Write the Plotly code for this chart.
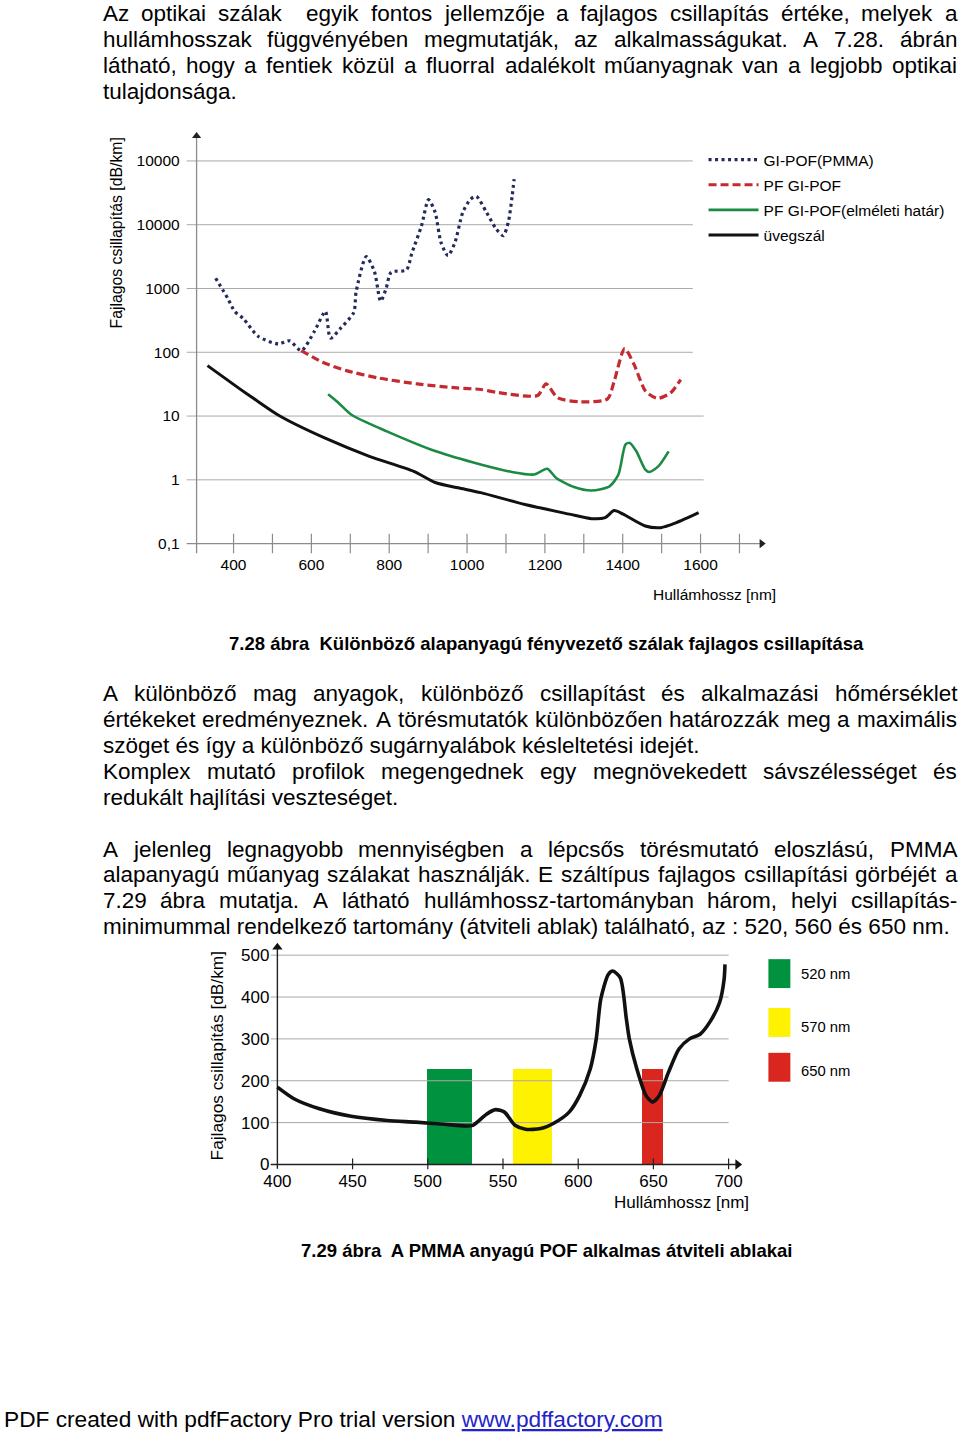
import plotly.graph_objects as go

# ---------------- page geometry helpers ----------------
W_PX, H_PX = 960, 1439
def PX(x):
    # small empirical correction so that the rendered page lines up with the scan
    return (x - 5.0 * (1 - x / W_PX)) / W_PX
def PY(y):
    return 1 - (y + 2.5) / H_PX

FONT = "Liberation Sans, Arial, Helvetica, sans-serif"

# ---------------- text content ----------------
para1 = ["Az optikai szálak  egyik fontos jellemzője a fajlagos csillapítás értéke, melyek a",
         "hullámhosszak függvényében megmutatják, az alkalmasságukat. A 7.28. ábrán",
         "látható, hogy a fentiek közül a fluorral adalékolt műanyagnak van a legjobb optikai",
         "tulajdonsága."]
para1_justify = [True, True, True, False]
para2 = ["A különböző mag anyagok, különböző csillapítást és alkalmazási hőmérséklet",
         "értékeket eredményeznek. A törésmutatók különbözően határozzák meg a maximális",
         "szöget és így a különböző sugárnyalábok késleltetési idejét.",
         "Komplex mutató profilok megengednek egy megnövekedett sávszélességet és",
         "redukált hajlítási veszteséget."]
para2_justify = [True, True, False, True, False]
para3 = ["A jelenleg legnagyobb mennyiségben a lépcsős törésmutató eloszlású, PMMA",
         "alapanyagú műanyag szálakat használják. E száltípus fajlagos csillapítási görbéjét a",
         "7.29 ábra mutatja. A látható hullámhossz-tartományban három, helyi csillapítás-",
         "minimummal rendelkező tartomány (átviteli ablak) található, az : 520, 560 és 650 nm."]
para3_justify = [True, True, True, False]
caption1 = "7.28 ábra  Különböző alapanyagú fényvezető szálak fajlagos csillapítása"
caption2 = "7.29 ábra  A PMMA anyagú POF alkalmas átviteli ablakai"
footer_plain = "PDF created with pdfFactory Pro trial version "
footer_link = "www.pdffactory.com"

# ---------------- chart 1 data (log scale) ----------------
c1_ytitle = "Fajlagos csillapítás [dB/km]"
c1_xtitle = "Hullámhossz [nm]"
c1_xtick_vals = [400, 500, 600, 700, 800, 900, 1000, 1100, 1200, 1300, 1400, 1500, 1600, 1700]
c1_xtick_text = ["400", "", "600", "", "800", "", "1000", "", "1200", "", "1400", "", "1600", ""]
c1_ytick_vals = [0.1, 1, 10, 100, 1000, 10000, 100000]
c1_ytick_text = ["0,1", "1", "10", "100", "1000", "10000", "10000"]

series_names = ["GI-POF(PMMA)", "PF GI-POF", "PF GI-POF(elméleti határ)", "üvegszál"]

gi_pmma_nm = [354, 386, 403, 426, 463, 515, 544, 574, 608, 636, 649, 677, 709, 715, 741,
              762, 778, 792, 805, 844, 858, 883, 901, 918, 933, 951, 969, 989, 1009,
              1024, 1050, 1075, 1093, 1106, 1116, 1121]
gi_pmma_db = [1449, 685, 437, 333, 178, 135, 151, 106, 214, 437, 167, 245, 422, 891, 3162,
              1845, 630, 1000, 1800, 1950, 3550, 9640, 24660, 15600, 5290, 3270, 5290,
              15600, 25200, 27800, 15600, 8550, 6730, 10900, 28440, 51900]

pf_gi_nm = [574, 629, 690, 771, 872, 974, 1036, 1075, 1181, 1203, 1233, 1292, 1361, 1378,
            1405, 1429, 1459, 1489, 1523, 1549]
pf_gi_db = [106, 69.7, 51.6, 39.6, 31.9, 27.6, 26.1, 23.6, 21, 32, 19.3, 16.7, 18.6, 35,
            114, 64.6, 24.5, 18.9, 23.1, 37.4]

pf_limit_nm = [643, 668, 703, 794, 920, 1035, 1115, 1172, 1206, 1229, 1275, 1320, 1366,
               1389, 1407, 1418, 1435, 1458, 1469, 1492, 1518]
pf_limit_db = [22, 16.5, 10.5, 5.76, 2.8, 1.74, 1.33, 1.21, 1.49, 1.07, 0.77, 0.68, 0.79,
               1.21, 3.56, 3.79, 2.8, 1.45, 1.33, 1.64, 2.8]

glass_nm = [333, 416, 451, 519, 634, 749, 863, 920, 977, 1035, 1149, 1263, 1320, 1355,
            1378, 1401, 1458, 1498, 1538, 1595]
glass_db = [61.8, 26.7, 19, 10, 4.53, 2.34, 1.36, 0.90, 0.75, 0.63, 0.41, 0.29, 0.246,
            0.255, 0.33, 0.29, 0.189, 0.178, 0.213, 0.305]

# ---------------- chart 2 data ----------------
c2_ytitle = "Fajlagos csillapítás [dB/km]"
c2_xtitle = "Hullámhossz [nm]"
c2_xtick_vals = [400, 450, 500, 550, 600, 650, 700]
c2_ytick_vals = [0, 100, 200, 300, 400, 500]

pmma_nm = [400, 411, 428, 449, 473, 492, 511, 525, 530, 539, 545, 551, 558, 565, 575, 584,
           594, 601, 608, 612, 615, 620, 623, 628, 632, 634, 639, 645, 649.5, 654, 660,
           667, 674, 681, 688, 694, 697, 697.6]
pmma_db = [184.6, 157, 133, 115, 105, 101, 96, 92, 93.5, 120, 131, 125, 93.5, 84, 85.6, 99,
           125, 165, 228, 300, 395, 454, 462, 446, 348, 300, 228, 165, 149, 165, 220,
           276, 300, 311, 343, 387, 442, 478]

window_labels = ["520 nm", "570 nm", "650 nm"]
window_left = [500, 557, 643]
window_right = [530, 583, 657]
window_height = [228, 228, 228]
window_colors = ["#00923f", "#fff200", "#d9261e"]

# ---------------- axis geometry (pixel placement) ----------------
X1_DOM_PX = (184, 770)
X1_RANGE = (276.9, 1779.5)
Y1_DOM_PX = (125, 553)
Y1_RANGE = (-1.156, 5.531)
X1_GRID_START = 279.5
Y1_GRID_END = [1608, 1608, 1580, 1580, 1580, 1580]   # for 1..100000
X1_AXIS_AT = 305            # x position of the vertical axis (nm)
X1_ARROW = 1757
Y1_ARROW = 10 ** 5.39
Y1_TICK_LO, Y1_TICK_HI = 10 ** -1.156, 10 ** -0.844

X2_DOM_PX = (269, 745)
X2_RANGE = (395.4, 711.2)
Y2_DOM_PX = (940, 1171)
Y2_RANGE = (-11.9, 538.1)
X2_AXIS_END = 706
Y2_AXIS_END = 519
X2_GRID_END = 700

fig = go.Figure()

# ---- chart 1 gridlines ----
gx, gy = [], []
for v, end in zip(c1_ytick_vals[1:], Y1_GRID_END):
    gx += [X1_GRID_START, end, None]
    gy += [v, v, None]
fig.add_trace(go.Scatter(x=gx, y=gy, mode="lines", line=dict(color="#a9a9a9", width=1),
                         hoverinfo="skip", showlegend=False, xaxis="x", yaxis="y"))
# axes
fig.add_trace(go.Scatter(x=[X1_GRID_START, X1_ARROW, None, X1_AXIS_AT, X1_AXIS_AT],
                         y=[0.1, 0.1, None, Y1_TICK_LO, Y1_ARROW],
                         mode="lines", line=dict(color="#8c8c8c", width=1.3),
                         hoverinfo="skip", showlegend=False, xaxis="x", yaxis="y"))
tx, ty = [], []
for t in c1_xtick_vals:
    tx += [t, t, None]
    ty += [Y1_TICK_LO, Y1_TICK_HI, None]
fig.add_trace(go.Scatter(x=tx, y=ty, mode="lines", line=dict(color="#8c8c8c", width=1.2),
                         hoverinfo="skip", showlegend=False, xaxis="x", yaxis="y"))
fig.add_trace(go.Scatter(x=[X1_AXIS_AT, X1_ARROW], y=[Y1_ARROW, 0.1], mode="markers",
                         marker=dict(symbol=["triangle-up", "triangle-right"], size=8,
                                     color="#222"),
                         cliponaxis=False, hoverinfo="skip", showlegend=False,
                         xaxis="x", yaxis="y"))

# ---- chart 1 curves ----
curves = [
    (gi_pmma_nm, gi_pmma_db, "#232a5c", "3px,3.5px", 3.2),
    (pf_gi_nm, pf_gi_db, "#c42a2f", "8px,4px", 3.2),
    (pf_limit_nm, pf_limit_db, "#1b8a42", "solid", 2.6),
    (glass_nm, glass_db, "#111111", "solid", 3.0),
]
for name, (xs, ys, col, dash, wd) in zip(series_names, curves):
    fig.add_trace(go.Scatter(x=xs, y=ys, mode="lines", name=name, legendgroup=name,
                             line=dict(color=col, dash=dash, width=wd, shape="spline",
                                       smoothing=0.7),
                             xaxis="x", yaxis="y"))

# ---- chart 2 gridlines ----
gx, gy = [], []
for v in c2_ytick_vals[1:]:
    gx += [X2_RANGE[0], X2_GRID_END, None]
    gy += [v, v, None]
fig.add_trace(go.Scatter(x=gx, y=gy, mode="lines", line=dict(color="#a9a9a9", width=1),
                         hoverinfo="skip", showlegend=False, xaxis="x2", yaxis="y2"))
# bars (transmission windows)
fig.add_trace(go.Bar(x=[(l + r) / 2 for l, r in zip(window_left, window_right)],
                     y=window_height,
                     width=[r - l for l, r in zip(window_left, window_right)],
                     marker=dict(color=window_colors, line=dict(width=0)),
                     showlegend=False, hoverinfo="skip", xaxis="x2", yaxis="y2"))
# axes
fig.add_trace(go.Scatter(x=[X2_RANGE[0], X2_AXIS_END, None, 400, 400],
                         y=[0, 0, None, -10, Y2_AXIS_END],
                         mode="lines", line=dict(color="#222", width=1.4),
                         hoverinfo="skip", showlegend=False, xaxis="x2", yaxis="y2"))
tx, ty = [], []
for t in c2_xtick_vals[1:]:
    tx += [t, t, None]
    ty += [-12, 14, None]
fig.add_trace(go.Scatter(x=tx, y=ty, mode="lines", line=dict(color="#222", width=1.2),
                         hoverinfo="skip", showlegend=False, xaxis="x2", yaxis="y2"))
fig.add_trace(go.Scatter(x=[400, X2_AXIS_END], y=[Y2_AXIS_END, 0], mode="markers",
                         marker=dict(symbol=["triangle-up", "triangle-right"], size=9,
                                     color="#111"),
                         cliponaxis=False, hoverinfo="skip", showlegend=False,
                         xaxis="x2", yaxis="y2"))
fig.add_trace(go.Scatter(x=pmma_nm, y=pmma_db, mode="lines",
                         line=dict(color="#111111", width=3.6, shape="spline", smoothing=0.7),
                         showlegend=False, hoverinfo="skip", xaxis="x2", yaxis="y2"))

# ---------------- text helpers ----------------
ARIAL = {' ': 278, '(': 333, ')': 333, ',': 278, '-': 333, '.': 278, '/': 278, ':': 278,
         '[': 278, ']': 278,
         'A': 667, 'B': 667, 'C': 722, 'D': 722, 'E': 667, 'F': 611, 'G': 778, 'H': 722,
         'I': 278, 'J': 500, 'K': 667, 'L': 556, 'M': 833, 'N': 722, 'O': 778, 'P': 667,
         'Q': 778, 'R': 722, 'S': 667, 'T': 611, 'U': 722, 'V': 667, 'W': 944, 'X': 667,
         'Y': 667, 'Z': 611,
         'a': 556, 'b': 556, 'c': 500, 'd': 556, 'e': 556, 'f': 278, 'g': 556, 'h': 556,
         'i': 222, 'j': 222, 'k': 500, 'l': 222, 'm': 833, 'n': 556, 'o': 556, 'p': 556,
         'q': 556, 'r': 333, 's': 500, 't': 278, 'u': 556, 'v': 500, 'w': 722, 'x': 500,
         'y': 500, 'z': 500, 'í': 278, 'É': 667}

def tw(s, size):
    return sum(ARIAL.get(c, 556) for c in s) * size / 1000.0

annotations = []
BODY = 22.5
LEFT, RIGHT = 101, 957

def body_ann(text, x, yc):
    annotations.append(dict(text=text, x=PX(x), y=yc, xref="paper", yref="paper",
                            xanchor="left", yanchor="middle", showarrow=False,
                            borderpad=0, borderwidth=0,
                            font=dict(family=FONT, size=BODY, color="#000")))

def body_line(line, baseline, justify):
    yc = PY(baseline - 7.8)
    if not justify:
        body_ann(line, LEFT, yc)
        return
    words = line.split(" ")
    widths = [tw(w, BODY) for w in words]
    gap = (RIGHT - LEFT - sum(widths)) / (len(words) - 1)
    x = LEFT
    for w, wd in zip(words, widths):
        if w:
            body_ann(w, x, yc)
        x += wd + gap

for i, (ln, j) in enumerate(zip(para1, para1_justify)):
    body_line(ln, 19.3 + 26 * i, j)
for i, (ln, j) in enumerate(zip(para2, para2_justify)):
    body_line(ln, 701.3 + 26 * i, j)
for i, (ln, j) in enumerate(zip(para3, para3_justify)):
    body_line(ln, 857.3 + 26 * i, j)

def ann(text, x, y, size, family=FONT, xanchor="center", angle=0, color="#000", weight=None):
    f = dict(family=family, size=size, color=color)
    if weight:
        f["weight"] = weight
    annotations.append(dict(text=text, x=PX(x), y=PY(y), xref="paper", yref="paper",
                            xanchor=xanchor, yanchor="middle", showarrow=False,
                            borderpad=0, borderwidth=0, textangle=angle, font=f))

ann(caption1, 545.5, 643, 18.5, weight="bold")
ann(caption2, 545.5, 1252, 18.5, weight="bold")
ann(footer_plain + "<span style='color:#2323c8'><u>" + footer_link + "</u></span>",
    2, 1421, 22.7, xanchor="left")

# chart titles
ann(c1_ytitle, 115, 231, 15.8, angle=-90)
ann(c1_xtitle, 776, 594, 15.5, xanchor="right")
ann(c2_ytitle, 215, 1057, 17.3, angle=-90)
ann(c2_xtitle, 749, 1204, 17, xanchor="right")

# chart 2 legend (colour swatches)
sw_top = [960, 1009, 1054]
sw_text_y = [975, 1028, 1072]
shapes = []
for lab, col, top, ty_ in zip(window_labels, window_colors, sw_top, sw_text_y):
    shapes.append(dict(type="rect", xref="paper", yref="paper", x0=PX(768), x1=PX(790),
                       y0=PY(top), y1=PY(top + 29), fillcolor=col, line=dict(width=0)))
    ann(lab, 801, ty_, 14.8, xanchor="left")

fig.update_layout(
    width=W_PX, height=H_PX, autosize=False,
    margin=dict(l=0, r=0, t=0, b=0),
    paper_bgcolor="white", plot_bgcolor="rgba(0,0,0,0)",
    showlegend=True,
    legend=dict(x=PX(703), y=PY(141), xanchor="left", yanchor="top",
                font=dict(family=FONT, size=15.5, color="#000"),
                bgcolor="rgba(0,0,0,0)", tracegroupgap=2, itemwidth=50,
                traceorder="grouped"),
    xaxis=dict(domain=[PX(X1_DOM_PX[0]), PX(X1_DOM_PX[1])], range=list(X1_RANGE),
               showgrid=False, zeroline=False, showline=False, ticks="",
               tickmode="array", tickvals=c1_xtick_vals, ticktext=c1_xtick_text,
               tickfont=dict(family=FONT, size=15.5, color="#000"), anchor="y"),
    yaxis=dict(domain=[PY(Y1_DOM_PX[1]), PY(Y1_DOM_PX[0])], range=list(Y1_RANGE),
               type="log", showgrid=False, zeroline=False, showline=False, ticks="",
               tickmode="array", tickvals=c1_ytick_vals, ticktext=c1_ytick_text,
               ticklabelstandoff=5,
               tickfont=dict(family=FONT, size=15.5, color="#000"), anchor="x"),
    xaxis2=dict(domain=[PX(X2_DOM_PX[0]), PX(X2_DOM_PX[1])], range=list(X2_RANGE),
                showgrid=False, zeroline=False, showline=False, ticks="",
                tickmode="array", tickvals=c2_xtick_vals,
                tickfont=dict(family=FONT, size=17, color="#000"), anchor="y2"),
    yaxis2=dict(domain=[PY(Y2_DOM_PX[1]), PY(Y2_DOM_PX[0])], range=list(Y2_RANGE),
                showgrid=False, zeroline=False, showline=False, ticks="",
                tickmode="array", tickvals=c2_ytick_vals,
                tickfont=dict(family=FONT, size=17, color="#000"), anchor="x2"),
    annotations=annotations,
    shapes=shapes,
    bargap=0,
)

fig.write_html("out.html",
               config={"displayModeBar": False},
               post_script="document.body.style.margin='0px';"
                           "document.body.style.padding='0px';"
                           "document.body.style.overflow='hidden';")
